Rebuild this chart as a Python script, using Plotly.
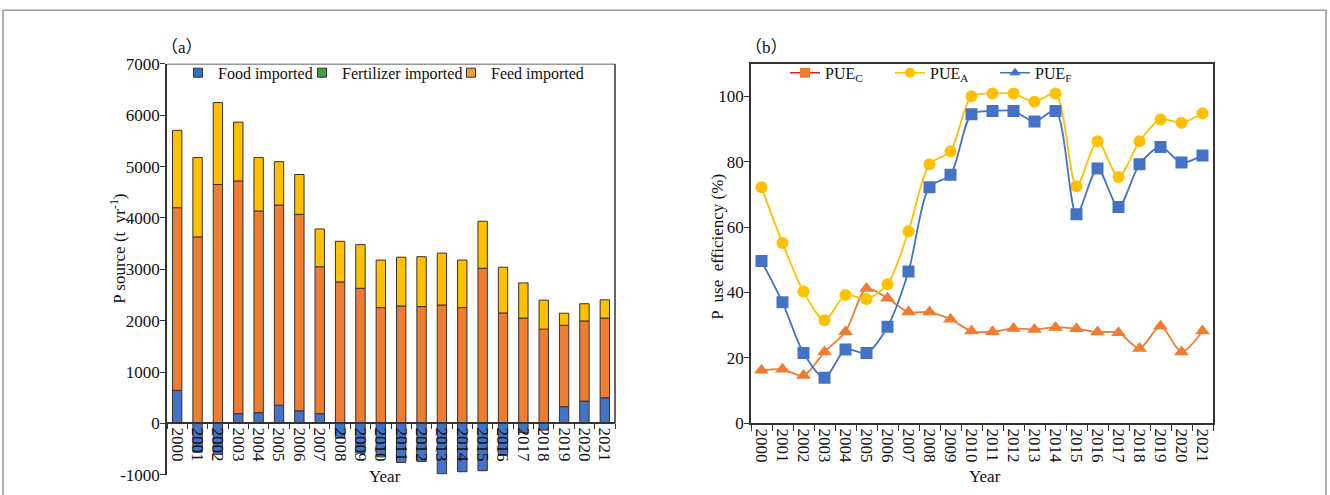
import plotly.graph_objects as go

years = [str(y) for y in range(2000, 2022)]

# Panel (a) stacked bar segments (t yr-1)
food_imported = [645, -560, -600, 190, 210, 355, 245, 190, -280, -580, -650, -760,
                 -740, -980, -940, -920, -620, -180, -130, 325, 435, 500]
orange_segment = [3555, 3630, 4650, 4530, 3925, 3895, 3825, 2860, 2755, 2630, 2255, 2285,
                  2275, 2305, 2255, 3020, 2150, 2050, 1835, 1585, 1560, 1550]
yellow_segment = [1505, 1545, 1595, 1145, 1040, 845, 775, 735, 790, 850, 925, 950,
                  970, 1010, 925, 915, 890, 685, 565, 235, 335, 355]

# Panel (b) P use efficiency (%)
pue_orange_tri = [16.2, 16.5, 14.6, 21.8, 28.0, 41.2, 38.2, 34.0, 34.0, 31.8, 28.2, 28.0,
                  29.0, 28.7, 29.3, 28.9, 27.9, 27.7, 22.9, 29.7, 21.8, 28.2]
pue_yellow_circ = [72.2, 55.1, 40.3, 31.5, 39.2, 38.0, 42.5, 58.7, 79.2, 83.2, 100.0, 100.8,
                   100.8, 98.3, 100.8, 72.5, 86.2, 75.3, 86.2, 92.9, 91.9, 94.8]
pue_blue_sq = [49.6, 37.0, 21.5, 13.9, 22.6, 21.5, 29.5, 46.4, 72.2, 76.0, 94.5, 95.5,
               95.5, 92.3, 95.5, 63.9, 77.9, 66.1, 79.2, 84.5, 79.7, 81.9]

ya_ticks = [-1000, 0, 1000, 2000, 3000, 4000, 5000, 6000, 7000]
ya_ticktext = ["-1000", "0", "1000", "2000", "3000", "4000", "5000", "6000", "7000"]

legend_a_names = ["Food imported", "Fertilizer imported", "Feed imported"]
legend_a_colors = ["#2E75C8", "#3DA33D", "#F0A030"]
legend_b_names = ["PUE<sub>C</sub>", "PUE<sub>A</sub>", "PUE<sub>F</sub>"]

W, H = 1330, 495
# screen-to-figure calibration of the capture (vertical offset/scale)
Y_OFF, Y_SCALE = 8.2, 0.9616

def fx(p):
    return p / W

def fy(p):
    return 1 - ((p - Y_OFF) / Y_SCALE) / H

BLUE = "#4472C4"
ORANGE = "#ED7D31"
YELLOW = "#FFC000"
AX = "#333333"
SERIF = "Liberation Serif, Times New Roman, serif"

fig = go.Figure()

# ---- Panel (a) bars
for vals, col in [(food_imported, BLUE), (orange_segment, ORANGE), (yellow_segment, YELLOW)]:
    fig.add_trace(go.Bar(x=years, y=vals, marker=dict(color=col, line=dict(color="#3a3030", width=1)),
                         width=0.46, showlegend=False, xaxis="x", yaxis="y"))

legend_a_x = [178, 302, 451]
for i, (name, col) in enumerate(zip(legend_a_names, legend_a_colors)):
    fig.add_trace(go.Scatter(x=[None], y=[None], mode="markers", name=name,
                             marker=dict(symbol="square", size=9, color=col, line=dict(color="#333", width=1)),
                             legend="legend" if i == 0 else f"legend{i + 1}", xaxis="x", yaxis="y"))

# ---- Panel (b) lines
for vals, col, sym, sz in [(pue_orange_tri, ORANGE, "triangle-up", 13),
                           (pue_yellow_circ, YELLOW, "circle", 12),
                           (pue_blue_sq, BLUE, "square", 12)]:
    fig.add_trace(go.Scatter(x=years, y=vals, mode="lines+markers",
                             line=dict(color=col, width=1.8, shape="spline", smoothing=0.8),
                             marker=dict(symbol=sym, size=sz, color=col),
                             showlegend=False, xaxis="x2", yaxis="y2"))

legend_b_x = [785, 890, 995]
for i, (name, lcol, mcol, sym) in enumerate(zip(legend_b_names, ["#E02020", YELLOW, BLUE],
                                                [ORANGE, YELLOW, BLUE],
                                                ["square", "circle", "triangle-up"])):
    fig.add_trace(go.Scatter(x=[None], y=[None], mode="lines+markers", name=name,
                             line=dict(color=lcol, width=1.5),
                             marker=dict(symbol=sym, size=10, color=mcol),
                             legend=f"legend{i + 4}", xaxis="x2", yaxis="y2"))

ya_dom = [fy(474), fy(63)]
yb_dom = [fy(422.5), fy(62.7)]
zero_pos = ya_dom[0] + (ya_dom[1] - ya_dom[0]) * (1000 / 8000)

tickfont = dict(family=SERIF, size=17, color="#111")

def leg(xpx, ypx):
    return dict(orientation="h", x=fx(xpx), y=fy(ypx), xanchor="left", yanchor="middle",
                bgcolor="rgba(0,0,0,0)", font=dict(family=SERIF, size=16, color="#111"),
                itemwidth=30)

layout_legends = {}
for i, xp in enumerate(legend_a_x):
    layout_legends["legend" if i == 0 else f"legend{i + 1}"] = leg(xp, 72)
for i, xp in enumerate(legend_b_x):
    layout_legends[f"legend{i + 4}"] = leg(xp, 72)

fig.update_layout(
    width=W, height=H, margin=dict(l=0, r=0, t=0, b=0),
    paper_bgcolor="white", plot_bgcolor="white",
    barmode="relative",
    font=dict(family=SERIF, size=16, color="#111"),
    xaxis=dict(domain=[fx(167), fx(615)], anchor="free", position=zero_pos,
               type="category", categoryorder="array", categoryarray=years,
               range=[-0.5, 21.5], tickson="boundaries", ticks="outside", ticklen=5,
               tickcolor=AX, showline=True, linecolor=AX, linewidth=1.5,
               tickangle=90, tickfont=tickfont, showgrid=False, zeroline=False),
    yaxis=dict(domain=ya_dom, anchor="x", range=[-1000, 7000],
               tickmode="array", tickvals=ya_ticks, ticktext=ya_ticktext,
               ticks="outside", ticklen=5, tickcolor=AX, showline=True, linecolor=AX,
               linewidth=1.5, tickfont=tickfont, showgrid=False, zeroline=False,
               ticklabelstandoff=-3),
    xaxis2=dict(domain=[fx(751), fx(1213)], anchor="y2",
                type="category", categoryorder="array", categoryarray=years,
                range=[-0.5, 21.5], tickson="boundaries", ticks="outside", ticklen=6,
                tickcolor=AX, showline=True, linecolor=AX, linewidth=1.5, mirror=True,
                tickangle=90, tickfont=tickfont, showgrid=False, zeroline=False),
    yaxis2=dict(domain=yb_dom, anchor="x2", range=[0, 110], dtick=20,
                ticks="outside", ticklen=5, tickcolor=AX, showline=True, linecolor=AX,
                linewidth=1.5, mirror=True, tickfont=tickfont, showgrid=False, zeroline=False,
                ticklabelstandoff=-3),
    **layout_legends,
)

# Panel (a) frame: top edge and right edge above the zero line
fig.add_shape(type="line", xref="x domain", yref="y", x0=0, x1=1, y0=7000, y1=7000,
              line=dict(color=AX, width=1.5))
fig.add_shape(type="line", xref="x domain", yref="y", x0=1, x1=1, y0=0, y1=7000,
              line=dict(color=AX, width=1.5))
# outer image frame
fig.add_shape(type="rect", xref="paper", yref="paper", x0=fx(3), x1=fx(1326), y0=-0.1,
              y1=1 - 1.2 / H, line=dict(color="#999999", width=1.5), layer="below")

ann = [
    dict(text="（a）", x=fx(159), y=fy(47), xanchor="left", yanchor="middle",
         font=dict(family="Liberation Serif, Noto Sans CJK SC", size=17)),
    dict(text="（b）", x=fx(743), y=fy(47), xanchor="left", yanchor="middle",
         font=dict(family="Liberation Serif, Noto Sans CJK SC", size=17)),
    dict(text="P source (t  yr<sup>-1</sup>)", x=fx(118), y=fy(248), textangle=-90,
         xanchor="center", yanchor="middle", font=dict(family=SERIF, size=17)),
    dict(text="P  use  efficiency (%)", x=fx(718), y=fy(246), textangle=-90,
         xanchor="center", yanchor="middle", font=dict(family=SERIF, size=17)),
    dict(text="Year", x=fx(385), y=-0.006, xanchor="center", yanchor="bottom",
         font=dict(family=SERIF, size=17)),
    dict(text="Year", x=fx(985), y=-0.006, xanchor="center", yanchor="bottom",
         font=dict(family=SERIF, size=17)),
]
for a in ann:
    a.update(xref="paper", yref="paper", showarrow=False)
fig.update_layout(annotations=ann)

fig.write_html("out.html", config={"displayModeBar": False},
               post_script="document.body.style.margin='0';document.body.style.overflow='hidden';")
